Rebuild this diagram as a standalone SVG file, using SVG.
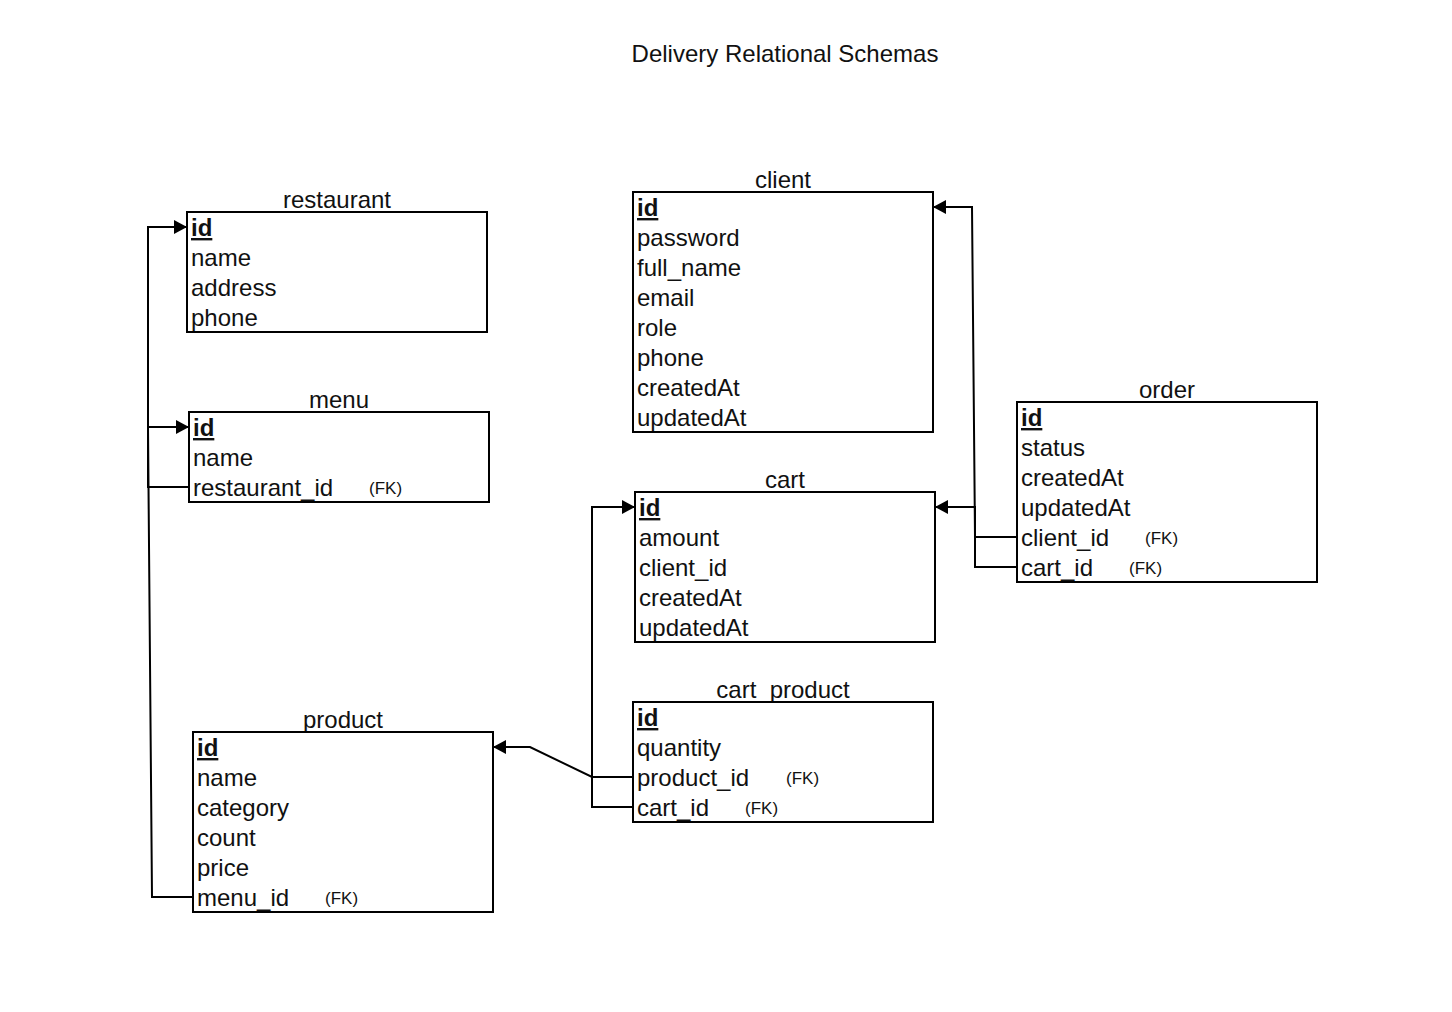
<svg xmlns="http://www.w3.org/2000/svg" width="1452" height="1012" viewBox="0 0 1452 1012">
<defs>
<marker id="arr" markerUnits="userSpaceOnUse" markerWidth="16" markerHeight="16" refX="13" refY="8" orient="auto">
<path d="M0,1 L13,8 L0,15 z" fill="#000"/>
</marker>
<style>
text{font-family:"Liberation Sans",Arial,Helvetica,sans-serif;fill:#111;}
.t{font-size:24px;text-anchor:middle;}
.r{font-size:24px;}
.pk{font-size:24px;font-weight:bold;text-decoration:underline;}
.fk{font-size:17px;}
.box{fill:#fff;stroke:#000;stroke-width:2;}
.c{fill:none;stroke:#000;stroke-width:2;}
</style>
</defs>
<rect width="1452" height="1012" fill="#fff"/>
<text class="t" x="785" y="62" fill="#222">Delivery Relational Schemas</text>

<g id="connectors">
<path class="c" d="M188,487 H148 V227 H187" marker-end="url(#arr)"/>
<path class="c" d="M193,897 H152 L148,427 H189" marker-end="url(#arr)"/>
<path class="c" d="M633,777 H592 L530,747 H493" marker-end="url(#arr)"/>
<path class="c" d="M633,807 H592 V507 H635" marker-end="url(#arr)"/>
<path class="c" d="M1017,537 H975 L972,207 H933" marker-end="url(#arr)"/>
<path class="c" d="M1017,567 H975 V507 H935" marker-end="url(#arr)"/>
</g>

<g id="restaurant">
<text class="t" x="337" y="208">restaurant</text>
<rect class="box" x="187" y="212" width="300" height="120"/>
<text class="pk" x="191" y="236">id</text>
<text class="r" x="191" y="266">name</text>
<text class="r" x="191" y="296">address</text>
<text class="r" x="191" y="326">phone</text>
</g>

<g id="menu">
<text class="t" x="339" y="408">menu</text>
<rect class="box" x="189" y="412" width="300" height="90"/>
<text class="pk" x="193" y="436">id</text>
<text class="r" x="193" y="466">name</text>
<text class="r" x="193" y="496">restaurant_id</text>
<text class="fk" x="369" y="494">(FK)</text>
</g>

<g id="product">
<text class="t" x="343" y="728">product</text>
<rect class="box" x="193" y="732" width="300" height="180"/>
<text class="pk" x="197" y="756">id</text>
<text class="r" x="197" y="786">name</text>
<text class="r" x="197" y="816">category</text>
<text class="r" x="197" y="846">count</text>
<text class="r" x="197" y="876">price</text>
<text class="r" x="197" y="906">menu_id</text>
<text class="fk" x="325" y="904">(FK)</text>
</g>

<g id="client">
<text class="t" x="783" y="188">client</text>
<rect class="box" x="633" y="192" width="300" height="240"/>
<text class="pk" x="637" y="216">id</text>
<text class="r" x="637" y="246">password</text>
<text class="r" x="637" y="276">full_name</text>
<text class="r" x="637" y="306">email</text>
<text class="r" x="637" y="336">role</text>
<text class="r" x="637" y="366">phone</text>
<text class="r" x="637" y="396">createdAt</text>
<text class="r" x="637" y="426">updatedAt</text>
</g>

<g id="cart">
<text class="t" x="785" y="488">cart</text>
<rect class="box" x="635" y="492" width="300" height="150"/>
<text class="pk" x="639" y="516">id</text>
<text class="r" x="639" y="546">amount</text>
<text class="r" x="639" y="576">client_id</text>
<text class="r" x="639" y="606">createdAt</text>
<text class="r" x="639" y="636">updatedAt</text>
</g>

<g id="cart_product">
<text class="t" x="783" y="698">cart_product</text>
<rect class="box" x="633" y="702" width="300" height="120"/>
<text class="pk" x="637" y="726">id</text>
<text class="r" x="637" y="756">quantity</text>
<text class="r" x="637" y="786">product_id</text>
<text class="fk" x="786" y="784">(FK)</text>
<text class="r" x="637" y="816">cart_id</text>
<text class="fk" x="745" y="814">(FK)</text>
</g>

<g id="order">
<text class="t" x="1167" y="398">order</text>
<rect class="box" x="1017" y="402" width="300" height="180"/>
<text class="pk" x="1021" y="426">id</text>
<text class="r" x="1021" y="456">status</text>
<text class="r" x="1021" y="486">createdAt</text>
<text class="r" x="1021" y="516">updatedAt</text>
<text class="r" x="1021" y="546">client_id</text>
<text class="fk" x="1145" y="544">(FK)</text>
<text class="r" x="1021" y="576">cart_id</text>
<text class="fk" x="1129" y="574">(FK)</text>
</g>
</svg>
